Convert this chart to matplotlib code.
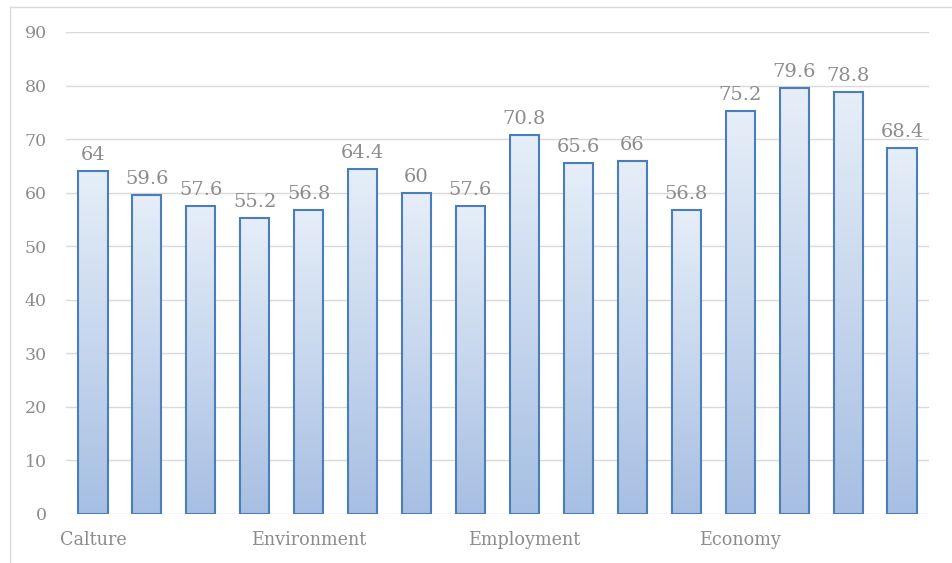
import numpy as np
import matplotlib
matplotlib.use("Agg")
import matplotlib.pyplot as plt
from matplotlib.patches import Rectangle
from matplotlib.colors import LinearSegmentedColormap

# Scores per indicator (16 indicators in four groups)
values = [64, 59.6, 57.6, 55.2, 56.8, 64.4, 60, 57.6,
          70.8, 65.6, 66, 56.8, 75.2, 79.6, 78.8, 68.4]
group_labels = ["Calture", "Environment", "Employment", "Economy"]
group_positions = [0, 4, 8, 12]
y_ticks = [0, 10, 20, 30, 40, 50, 60, 70, 80, 90]

plt.rcParams['font.family'] = ['DejaVu Serif']
text_color = "#8c8c8c"

fig = plt.figure(figsize=(9.52, 5.63), dpi=100)
# Light frame around the chart area
fig.patches.append(Rectangle((10 / 952, -0.1), 1.2, 1 - 7 / 563 + 0.1,
                             transform=fig.transFigure, fill=False,
                             edgecolor="#d9d9d9", linewidth=1.0))

ax = fig.add_axes([66 / 952, 1 - 514 / 563, (929 - 66) / 952, (514 - 32) / 563])

cmap = LinearSegmentedColormap.from_list("bar", ["#a7bfe3", "#e6eef8"])
grad = np.linspace(0, 1, 256).reshape(-1, 1)
width = 0.54
bars = ax.bar(range(len(values)), values, width=width, facecolor="none",
              edgecolor="#4a7ebb", linewidth=1.5, zorder=3)
for b, v in zip(bars, values):
    x0 = b.get_x()
    im = ax.imshow(grad, cmap=cmap, aspect="auto", origin="lower",
                   extent=[x0, x0 + width, 0, v], zorder=2)
    im.set_clip_path(b)
    ax.annotate(f"{v:g}", (b.get_x() + width / 2, v), xytext=(0, 5),
                textcoords="offset points", ha="center", va="bottom",
                fontsize=14, color=text_color)
ax.set_xlim(-0.5, len(values) - 0.5)
ax.set_ylim(0, 90)

ax.set_yticks(y_ticks)
ax.set_xticks(group_positions)
ax.set_xticklabels(group_labels, fontsize=12.7)
ax.tick_params(axis="both", length=0, colors=text_color)
ax.tick_params(axis="y", pad=14, labelsize=12.5)
ax.tick_params(axis="x", pad=12)
ax.grid(axis="y", color="#d9d9d9", linewidth=1.0, zorder=0)
ax.set_axisbelow(True)
for s in ax.spines.values():
    s.set_visible(False)

fig.savefig("out.png", dpi=100)
